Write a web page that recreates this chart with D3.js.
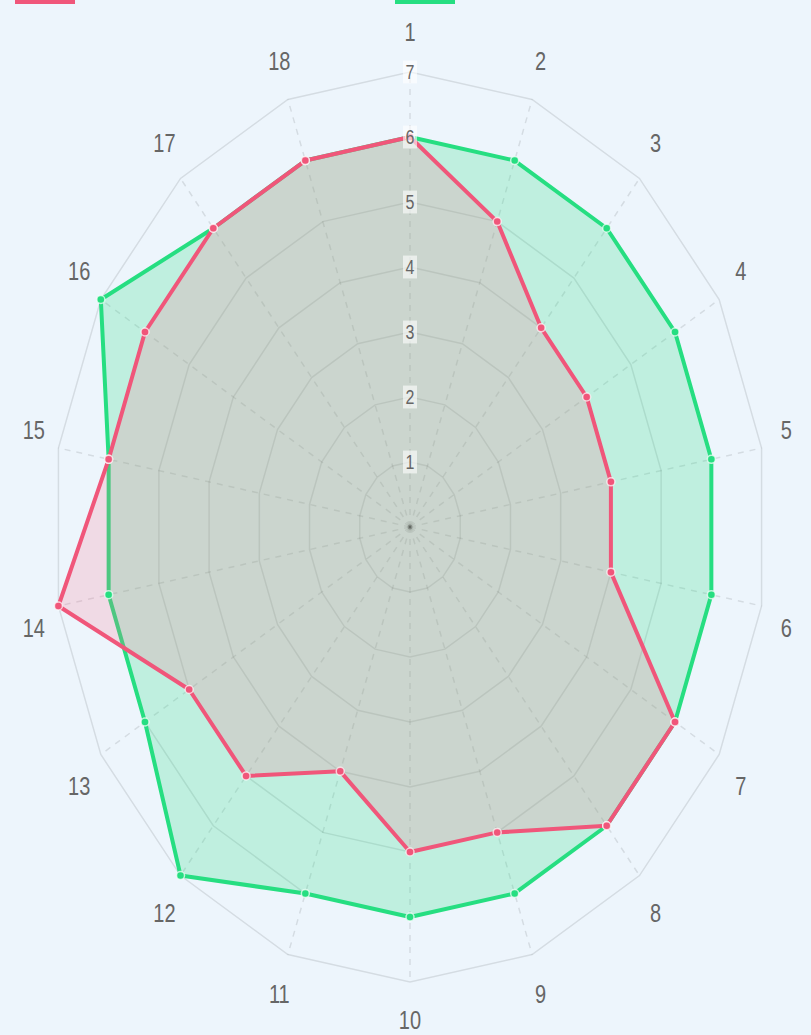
<!DOCTYPE html>
<html>
<head>
<meta charset="utf-8">
<script src="https://cdn.jsdelivr.net/npm/d3@7"></script>
<style>
  html, body { margin: 0; padding: 0; background: #edf5fc; overflow: hidden; }
  svg { display: block; }
</style>
</head>
<body>
<script>
// données
const axes = ["1","2","3","4","5","6","7","8","9","10","11","12","13","14","15","16","17","18"];
const serieRouge = [6, 5, 4, 4, 4, 4, 6, 6, 5, 5, 4, 5, 5, 7, 6, 6, 6, 6];
const serieVerte = [6, 6, 6, 6, 6, 6, 6, 6, 6, 6, 6, 7, 6, 6, 6, 7, 6, 6];
const ticks = [1, 2, 3, 4, 5, 6, 7];
const legende = ["Dataset 1", "Dataset 2"];

const width = 811, height = 1035;
const cx = 410, cy = 527;
const stretch = 1.27; // le graphique est étiré verticalement

const svg = d3.select("body").append("svg")
  .attr("width", width).attr("height", height);

svg.append("rect").attr("width", width).attr("height", height).attr("fill", "#edf5fc");

// échelles (x et y séparées)
const rx = d3.scaleLinear().domain([0, 7]).range([0, 357]);
const ry = d3.scaleLinear().domain([0, 7]).range([0, 455]);
const angle = d3.scaleLinear().domain([0, axes.length]).range([0, 2 * Math.PI]);

const px = (i, v) => cx + Math.sin(angle(i)) * rx(v);
const py = (i, v) => cy - Math.cos(angle(i)) * ry(v);

const g = svg.append("g");

// anneaux
ticks.forEach(t => {
  g.append("polygon")
    .attr("points", axes.map((a, i) => px(i, t) + "," + py(i, t)).join(" "))
    .attr("fill", "none")
    .attr("stroke", "rgba(0,0,0,0.1)")
    .attr("stroke-width", 1.5);
});

// lignes d'angle
g.selectAll(".angle")
  .data(axes)
  .enter()
  .append("line")
    .attr("x1", cx).attr("y1", cy)
    .attr("x2", (d, i) => px(i, 7))
    .attr("y2", (d, i) => py(i, 7))
    .attr("stroke", "rgba(0,0,0,0.1)")
    .attr("stroke-width", 1.5)
    .attr("stroke-dasharray", "6,6");

// séries
const series = [
  { values: serieVerte, line: "rgb(38,222,129)", fill: "rgba(38,222,129,0.23)" },
  { values: serieRouge, line: "rgb(240,86,122)", fill: "rgba(255,99,132,0.19)" }
];

series.forEach(s => {
  g.append("polygon")
    .attr("points", s.values.map((v, i) => px(i, v) + "," + py(i, v)).join(" "))
    .attr("fill", s.fill)
    .attr("stroke", s.line)
    .attr("stroke-width", 4)
    .attr("stroke-linejoin", "round");
});

series.forEach(s => {
  g.selectAll(null)
    .data(s.values)
    .enter()
    .append("circle")
      .attr("cx", (v, i) => px(i, v))
      .attr("cy", (v, i) => py(i, v))
      .attr("r", 4)
      .attr("fill", s.line)
      .attr("stroke", "rgba(255,255,255,0.7)")
      .attr("stroke-width", 1.5);
});

// point central
g.append("circle").attr("cx", cx).attr("cy", cy).attr("r", 2.5).attr("fill", "rgba(0,0,0,0.2)");

// étiquettes des graduations
ticks.forEach(t => {
  const y = cy - ry(t);
  const tg = svg.append("g").attr("transform", "translate(" + cx + "," + y + ") scale(1," + stretch + ")");
  tg.append("rect")
    .attr("x", -7).attr("y", -9).attr("width", 14).attr("height", 18)
    .attr("fill", "rgba(255,255,255,0.6)");
  tg.append("text")
    .attr("text-anchor", "middle")
    .attr("dy", "0.36em")
    .attr("font-family", "Liberation Sans, Arial, sans-serif")
    .attr("font-size", 16)
    .attr("fill", "#666")
    .text(t);
});

// étiquettes des axes
axes.forEach((a, i) => {
  const s = Math.sin(angle(i)), c = Math.cos(angle(i));
  const lx = cx + s * (rx(7) + 25);
  let ly = cy - c * (ry(7) + 40);
  // décalage vertical près de l'horizontale
  if (c > 0.01) ly -= 12 * s * s;
  else if (c < -0.01) ly += 15 * s * s;
  if (i === 9) ly -= 2;
  svg.append("text")
    .attr("transform", "translate(" + lx + "," + ly + ") scale(1," + stretch + ")")
    .attr("text-anchor", "middle")
    .attr("dy", "0.36em")
    .attr("font-family", "Liberation Sans, Arial, sans-serif")
    .attr("font-size", 20)
    .attr("fill", "#666")
    .text(a);
});

// légende (coupée en haut de l'image)
const legX = [15, 395];
legende.forEach((l, i) => {
  const s = series[1 - i];
  svg.append("rect")
    .attr("x", legX[i]).attr("y", -14)
    .attr("width", 60).attr("height", 18)
    .attr("fill", s.line);
  svg.append("text")
    .attr("x", legX[i] + 72).attr("y", -4)
    .attr("font-family", "Liberation Sans, Arial, sans-serif")
    .attr("font-size", 20)
    .attr("fill", "#ccc")
    .text(l);
});
</script>
</body>
</html>
